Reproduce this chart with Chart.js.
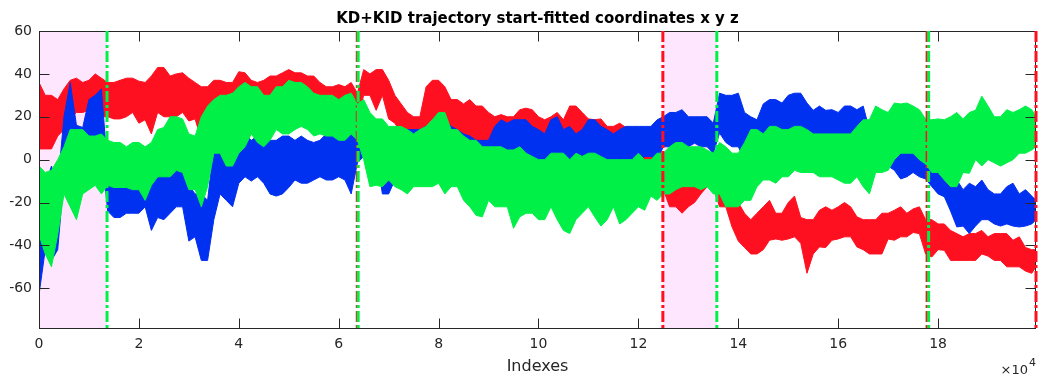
<!DOCTYPE html>
<html>
<head>
<meta charset="utf-8">
<script src="https://cdn.jsdelivr.net/npm/chart.js@4.4.1/dist/chart.umd.min.js"></script>
<style>
  html, body { margin: 0; padding: 0; background: #fff; }
  canvas { display: block; }
</style>
</head>
<body>
<canvas id="traj" width="1039" height="375"></canvas>
<script>
// Sample positions along the trajectory (frame index)
const sampleIndex = [
  0, 1250, 2500, 3750, 5000, 6250, 7500, 8750, 10000, 11250, 12500, 13750, 15000, 16250, 17500, 18750,
  20000, 21250, 22500, 23750, 25000, 26250, 27500, 28750, 30000, 31250, 32500, 33750, 35000, 36250, 37500, 38750,
  40000, 41250, 42500, 43750, 45000, 46250, 47500, 48750, 50000, 51250, 52500, 53750, 55000, 56250, 57500, 58750,
  60000, 61250, 62500, 63750, 65000, 66250, 67500, 68750, 70000, 71250, 72500, 73750, 75000, 76250, 77500, 78750,
  80000, 81250, 82500, 83750, 85000, 86250, 87500, 88750, 90000, 91250, 92500, 93750, 95000, 96250, 97500, 98750,
  100000, 101250, 102500, 103750, 105000, 106250, 107500, 108750, 110000, 111250, 112500, 113750, 115000, 116250, 117500, 118750,
  120000, 121250, 122500, 123750, 125000, 126250, 127500, 128750, 130000, 131250, 132500, 133750, 135000, 136250, 137500, 138750,
  140000, 141250, 142500, 143750, 145000, 146250, 147500, 148750, 150000, 151250, 152500, 153750, 155000, 156250, 157500, 158750,
  160000, 161250, 162500, 163750, 165000, 166250, 167500, 168750, 170000, 171250, 172500, 173750, 175000, 176250, 177500, 178750,
  180000, 181250, 182500, 183750, 185000, 186250, 187500, 188750, 190000, 191250, 192500, 193750, 195000, 196250, 197500, 198750,
  199600
];

// x coordinate: upper / lower envelope of the noisy trace
const xHigh = [
  36, 30, 30, 28, 33, 37, 38, 36, 37, 40, 38, 36, 36, 37, 38, 38,
  36.6, 36, 39, 43, 43, 39, 40, 40.5, 38, 36, 34, 34, 37, 37, 36, 36,
  41, 40.5, 37, 36, 37, 39, 39, 40.5, 42, 40.5, 40.5, 39, 39, 36, 34, 34,
  35, 34, 36, 31, 42, 40, 42, 42, 37, 30, 26, 22, 20, 20, 34, 37,
  37, 34, 28, 28, 26, 28, 25, 25, 22, 20, 21, 20, 20, 23.3, 24, 23.3,
  20, 18.6, 20, 22, 18.6, 25, 25, 22, 19, 18.6, 19, 15.5, 15.5, 17, 15, 14,
  12, 12, 8, 5, 2, -8, -3, -9.5, -2, -6, 0, 0, 3, -9.5, -11, -16,
  -20, -25, -28, -25, -22, -19, -25, -25, -20, -17, -27, -28, -28, -23.6, -22, -23.6,
  -22, -20, -22, -26.7, -28, -28, -28, -25, -25, -23.6, -22, -25, -23, -22, -28, -28,
  -30, -30, -33, -34.5, -36, -34.5, -34.5, -33, -36, -34.5, -34.5, -34.5, -37.6, -36, -41, -42,
  -42
];
const xLow = [
  5, 5, 5, 11, 14, 19, 22, 22, 23, 23, 20, 20, 19, 19, 20, 22,
  17, 18.6, 12, 22, 20, 20, 20, 22, 18, 19, 9, 14, 22, 25, 22, 26,
  26, 28, 25, 26, 26, 28, 26, 28, 28, 26, 26, 26, 25, 23, 20, 20,
  19, 19, 19, 19, 30, 30, 23, 30, 19, 17, 12, 11, 9, 9, 15.5, 18.6,
  14, 17, 14, 14, 11, 11, 8, 8, 4, 6, 9, 12.4, 11, 12.4, 12, 12.4,
  12, 11, 10, 14, 12, 12.4, 10, 14, 10, 11, 10, 9.3, 6, 6, 4.5, 3,
  2, 0, -2, -5, -14, -22, -22, -25, -22, -20, -16, -12.6, -13, -22, -22, -31.4,
  -38, -41, -44, -44, -42, -37.6, -37, -37.6, -37, -36, -39, -53, -44, -40.7, -41, -37.6,
  -37, -36, -36, -40.7, -42, -44, -44, -44, -37, -37.6, -36, -36, -34, -34.5, -44, -45.4,
  -42, -42.3, -47, -47, -47, -47, -47, -44, -45, -47, -47, -50, -50, -50, -52, -53,
  -50
];

// y coordinate
const yHigh = [
  -15, -12, -3, -12, 20, 36, 16, 15, 28, 30, 33, -5, -8, -8, -8, -8,
  -6, -5, -3, -3, -5, -5, -3, -2, -12, -16, -16, -19, 6, 8, 6, 11,
  11, 12, 9, 11, 8, 9, 9, 11, 11, 9, 11, 9, 8, 9, 12, 14,
  12, 12, 14, 15.5, 14, 18.6, 17, 15.5, 14, 14, 14, 14, 14, 14, 15.5, 15.5,
  18.6, 18.6, 15.5, 14, 12, 11, 9, 9, 9, 15.5, 18.6, 17, 18.6, 18.6, 18.6, 15.5,
  14, 12, 18.6, 20, 14, 15.5, 12, 14, 18.6, 18.6, 15.5, 14, 12, 14, 15.5, 15.5,
  15.5, 15.5, 15.5, 18.6, 20, 22, 22, 23.3, 20, 20, 20, 20, 17, 31, 30, 30,
  31, 22, 20, 18.6, 26, 28, 28, 26.4, 30, 31, 31, 26.4, 23, 25, 23, 23.3,
  22, 25, 25, 23.3, 25, 14, 15, 17, 14, 9, 6, 6, 6, 3, 3, -1.5,
  -2, -3, -8, -9.5, -14, -11, -12.6, -9.5, -14, -16, -16, -12.6, -11, -16, -14, -17,
  -19
];
const yLow = [
  -63, -42, -47, -42, -8, 14, -4, -3, 0, 3, 6, -24, -27, -27, -25, -25,
  -25, -22, -33, -27, -28, -25, -22, -22, -38, -36, -47, -47, -28, -16, -19, -22,
  -11, -8, -10, -8, -11, -16, -17, -16, -13, -9.5, -11, -11, -9.5, -8, -9.5, -9.5,
  -8, -9.5, -16, -1.5, 1.5, 6, 3, -16, -16, -9.5, -5, -6, -9.5, -9.5, -6, -9.5,
  -5, 0, -5, -3, -5, -3, 0, -1.5, -3, -1.5, 0, 0, 0, 0, 1.5, 1.5,
  -1, -8, -3, 0, -3, -5, -3, -1.5, 0, 0, 0, 0, 0, 0, 0, 0,
  -1.5, 1.5, 1.5, 0, 6, 6, 4.5, 6, 6, 7.7, 6, 6, 3, 12.4, 8, 6,
  6, 0, 0, 3, 6, 7.7, 11, 10.8, 12, 14, 14, 12.4, 9, 10.8, 9, 9.3,
  8, 10.8, 12, 6, 0, -6, -3, -3, -3, -5, -9, -8, -6, -8, -9, -12.6,
  -16, -17.3, -24, -31.4, -31, -34.5, -31, -28, -28, -30, -31, -30, -31, -31.4, -31, -30,
  -28
];

// z coordinate
const zHigh = [
  -3, -6, -5, 0, 6, 14, 14, 14, 11, 11, 12, 9, 8, 8, 6, 8,
  8, 6, 8, 14, 15, 20, 20, 19, 12, 11, 20, 25, 28, 30, 30, 31,
  34, 36, 34, 34, 30, 30, 34, 34, 37, 36, 36, 34, 31, 30, 30, 30,
  28, 30, 31, 26, 28, 22, 19, 19, 15.5, 15.5, 15.5, 14, 12, 14, 15.5, 18.6,
  22, 22, 14, 14, 11, 9, 9, 6, 6, 6, 6, 4.5, 4.5, 6, 3, 1.5,
  0, 0, 3, 3, 3, 0, 3, 1.5, 3, 3, 1.5, 0, 0, 0, 0, 0,
  3, 0, 0, 3, 3, 6, 8, 8, 6, 6, 6, 4.5, 3, 8, 6, 3,
  3, 8, 14, 14, 12, 15.5, 15.5, 14, 14, 15.5, 15.5, 14, 12, 12, 12, 12,
  12, 12, 12, 15.5, 18.6, 18.6, 25, 23.3, 22, 26.4, 26, 26.4, 25, 23.3, 19, 18.6,
  19, 18.6, 20, 22, 19, 22, 23, 29.6, 25, 20, 20, 23.3, 22, 23.3, 25, 23.3,
  20
];
const zLow = [
  -35, -44, -50, -35, -16, -22, -28, -16, -14, -12, -16, -12, -13, -13, -13, -14,
  -14, -19, -12, -8, -8, -8, -5, -6, -14, -14, -22, -12.6, 3, 3, -3, -3,
  3, 6, 12, 8, 6, 9, 14, 12, 12, 14, 15.5, 14, 11, 12, 11, 11,
  9, 9, 12, 9, 0, -12.6, -12, -12.6, -9.5, -12.6, -14, -16, -12.6, -12.6, -12.6, -12.6,
  -11, -16, -12.6, -12.6, -19, -22, -26, -26.7, -19, -22, -22, -22, -32, -26.7, -25, -25,
  -28, -28, -22, -28, -33, -34.5, -28, -25, -22, -26.7, -31, -28, -22, -30, -28, -25,
  -22, -23.6, -17, -19, -16, -16, -14, -12.6, -12.6, -12.6, -14, -12.6, -16, -16, -22, -22,
  -22, -19, -19, -12.6, -9.5, -9.5, -11, -8, -8, -5, -6, -6, -6, -8, -8, -8,
  -9.5, -11, -11, -8, -12.6, -16, -6, -6, -5, 0, 3, 3, 3, 0, -2, -6,
  -6, -9.5, -12.6, -12.6, -6, -6.4, 0, -3, 0, -1.5, -3, -1.5, 0, 3, 3, 4.5,
  6
];

// highlighted windows and event markers
const shadeStart = [0, 124900];
const shadeEnd = [13620, 135700];
const redMarks = [63720, 124900, 177800, 199600];
const greenMarks = [13620, 63900, 135700, 178100];

const xTicks = [0, 20000, 40000, 60000, 80000, 100000, 120000, 140000, 160000, 180000];
const yTicks = [-60, -40, -20, 0, 20, 40, 60];

const RED = '#ff1020';
const BLUE = '#0030f0';
const GREEN = '#00f048';
const AXIS = '#262626';
const FONT = '"DejaVu Sans", sans-serif';

function band(label, hi, lo, color, order) {
  const common = {
    borderColor: color,
    backgroundColor: color,
    borderWidth: 1,
    pointRadius: 0,
    tension: 0,
    order: order,
  };
  return [
    Object.assign({ label: label, data: hi.map((v, i) => ({ x: sampleIndex[i], y: v })), fill: '+1' }, common),
    Object.assign({ label: label + ' low', data: lo.map((v, i) => ({ x: sampleIndex[i], y: v })), fill: false }, common),
  ];
}

function drawMarks(ctx, xs, color, area, scale) {
  ctx.save();
  ctx.strokeStyle = color;
  ctx.lineWidth = 3;
  ctx.setLineDash([11, 3, 3, 3]);
  xs.forEach((v) => {
    const px = scale.getPixelForValue(v);
    ctx.beginPath();
    ctx.moveTo(px, area.top);
    ctx.lineTo(px, area.bottom);
    ctx.stroke();
  });
  ctx.restore();
}

const decorations = {
  id: 'decorations',
  beforeDatasetsDraw(chart) {
    const { ctx, chartArea: a, scales: { x } } = chart;
    ctx.save();
    ctx.fillStyle = 'rgb(255,230,255)';
    shadeStart.forEach((s, i) => {
      const x0 = x.getPixelForValue(s);
      const x1 = x.getPixelForValue(shadeEnd[i]);
      ctx.fillRect(x0, a.top, x1 - x0, a.bottom - a.top);
    });
    ctx.restore();
  },
  afterDatasetsDraw(chart) {
    const { ctx, chartArea: a, scales: { x, y } } = chart;

    // box with inward ticks on all four sides
    ctx.save();
    ctx.strokeStyle = AXIS;
    ctx.lineWidth = 1;
    const L = Math.round(a.left) + 0.5, R = Math.round(a.right) - 0.5;
    const T = Math.round(a.top) + 0.5, B = Math.round(a.bottom) - 0.5;
    ctx.strokeRect(L, T, R - L, B - T);
    ctx.beginPath();
    xTicks.forEach((v) => {
      const px = Math.round(x.getPixelForValue(v)) + 0.5;
      ctx.moveTo(px, B); ctx.lineTo(px, B - 10);
      ctx.moveTo(px, T); ctx.lineTo(px, T + 10);
    });
    yTicks.forEach((v) => {
      const py = Math.round(y.getPixelForValue(v)) + 0.5;
      ctx.moveTo(L, py); ctx.lineTo(L + 10, py);
      ctx.moveTo(R, py); ctx.lineTo(R - 10, py);
    });
    ctx.stroke();
    ctx.restore();

    drawMarks(ctx, redMarks, RED, a, x);
    drawMarks(ctx, greenMarks, GREEN, a, x);

    // title, axis label and exponent
    const cx = (a.left + a.right) / 2;
    ctx.save();
    ctx.fillStyle = '#000';
    ctx.textAlign = 'center';
    ctx.textBaseline = 'alphabetic';
    ctx.font = 'bold 15px ' + FONT;
    ctx.fillText('KD+KID trajectory start-fitted coordinates x y z', cx, 23);
    ctx.fillStyle = AXIS;
    ctx.font = '16px ' + FONT;
    ctx.fillText('Indexes', cx, 371);
    ctx.textAlign = 'right';
    ctx.font = '13px ' + FONT;
    ctx.fillText('\u00d710', 1028, 374);
    ctx.textAlign = 'left';
    ctx.font = '11px ' + FONT;
    ctx.fillText('4', 1029, 366);
    ctx.restore();
  },
};

new Chart(document.getElementById('traj'), {
  type: 'line',
  data: {
    datasets: [
      ...band('x', xHigh, xLow, RED, 2),
      ...band('y', yHigh, yLow, BLUE, 1),
      ...band('z', zHigh, zLow, GREEN, 0),
    ],
  },
  options: {
    responsive: false,
    animation: false,
    layout: { padding: { left: 0, right: 3, top: 31, bottom: 0 } },
    plugins: {
      legend: { display: false },
      tooltip: { enabled: false },
      title: { display: false },
    },
    scales: {
      x: {
        type: 'linear',
        min: 0,
        max: 199600,
        grid: { display: false, drawTicks: false },
        border: { display: false },
        afterBuildTicks: (s) => { s.ticks = xTicks.map((v) => ({ value: v })); },
        afterFit: (s) => { s.height = 46; },
        ticks: {
          color: AXIS,
          padding: 7,
          maxRotation: 0,
          font: { family: FONT, size: 14 },
          callback: (v) => String(v / 10000),
        },
      },
      y: {
        min: -79,
        max: 60,
        grid: { display: false, drawTicks: false },
        border: { display: false },
        afterBuildTicks: (s) => { s.ticks = yTicks.map((v) => ({ value: v })); },
        afterFit: (s) => { s.width = 39; },
        ticks: {
          color: AXIS,
          padding: 7,
          font: { family: FONT, size: 14 },
        },
      },
    },
  },
  plugins: [decorations],
});
</script>
</body>
</html>
